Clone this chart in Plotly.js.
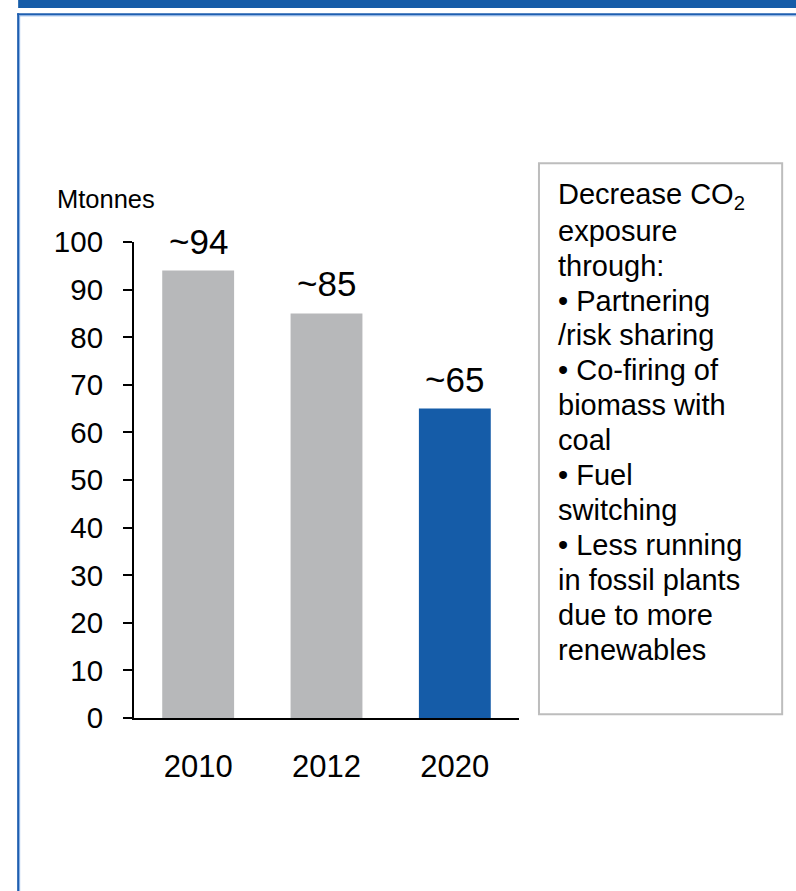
<!DOCTYPE html>
<html>
<head>
<meta charset="utf-8">
<script src="https://cdn.plot.ly/plotly-3.0.1.min.js"></script>
<style>
  html, body { margin: 0; padding: 0; background: #ffffff; }
  #chart { width: 796px; height: 891px; }
</style>
</head>
<body>
<div id="chart"></div>
<script>
// CO2 exposure by year (Mtonnes)
const years = ['2010', '2012', '2020'];
const emissions = [94, 85, 65];
const valueLabels = ['~94', '~85', '~65'];
const barColors = ['#b7b8ba', '#b7b8ba', '#155ca8'];
const unitLabel = 'Mtonnes';
const noteLines = [
  'Decrease CO<sub>2</sub>',
  'exposure',
  'through:',
  '\u2022 Partnering',
  '/risk sharing',
  '\u2022 Co-firing of',
  'biomass with',
  'coal',
  '\u2022 Fuel',
  'switching',
  '\u2022 Less running',
  'in fossil plants',
  'due to more',
  'renewables'
];

// page geometry (pixels)
const W = 796, H = 891;
const plotL = 134, plotR = 519.5, plotT = 241.7, plotB = 717.7;
const pw = plotR - plotL, ph = plotB - plotT;
const px = x => (x - plotL) / pw;
const py = y => (plotB - y) / ph;

const FONT = 'Liberation Sans, Arial, Helvetica, sans-serif';

const annotations = [];

// value labels above the bars (category index used as x position)
years.forEach((yr, i) => {
  annotations.push({
    x: i, y: emissions[i], xref: 'x', yref: 'y',
    text: valueLabels[i], showarrow: false,
    xanchor: 'center', yanchor: 'bottom', yshift: 8,
    font: { family: FONT, size: 35, color: '#000000' }
  });
});

// unit label
annotations.push({
  x: px(55), y: py(199), xref: 'paper', yref: 'paper',
  text: unitLabel, showarrow: false,
  xanchor: 'left', yanchor: 'middle',
  font: { family: FONT, size: 25.5, color: '#000000' }
});

// side note, one line per annotation
const noteFirstBaseline = 205.5, noteStep = 34.9;
noteLines.forEach((t, i) => {
  const base = noteFirstBaseline + i * noteStep;
  annotations.push({
    x: px(557), y: py(base - 10), xref: 'paper', yref: 'paper',
    text: t, showarrow: false,
    xanchor: 'left', yanchor: 'middle', align: 'left',
    font: { family: FONT, size: 29, color: '#000000' }
  });
});

const shapes = [
  // top banner
  { type: 'rect', xref: 'paper', yref: 'paper',
    x0: px(18), x1: px(W + 2), y0: py(0 - 2), y1: py(7.7),
    fillcolor: '#155ca8', line: { width: 0 } },
  // frame: top edge (dark + light)
  { type: 'line', xref: 'paper', yref: 'paper',
    x0: px(17), x1: px(W + 2), y0: py(14), y1: py(14),
    line: { color: '#1f5fb0', width: 2 } },
  { type: 'line', xref: 'paper', yref: 'paper',
    x0: px(19), x1: px(W + 2), y0: py(15.5), y1: py(15.5),
    line: { color: '#7ea9e2', width: 1 } },
  // frame: left edge
  { type: 'line', xref: 'paper', yref: 'paper',
    x0: px(18), x1: px(18), y0: py(13), y1: py(H + 2),
    line: { color: '#1f5fb0', width: 2 } },
  { type: 'line', xref: 'paper', yref: 'paper',
    x0: px(19.5), x1: px(19.5), y0: py(15), y1: py(H + 2),
    line: { color: '#7ea9e2', width: 1 } },
  // note box
  { type: 'rect', xref: 'paper', yref: 'paper',
    x0: px(539.5), x1: px(783), y0: py(163), y1: py(714),
    fillcolor: 'rgba(0,0,0,0)', line: { color: '#bdbdbd', width: 2 } }
];

const data = [{
  type: 'bar',
  x: years,
  y: emissions,
  marker: { color: barColors, line: { width: 0 } },
  hoverinfo: 'skip'
}];

const layout = {
  width: W, height: H,
  margin: { l: plotL, r: W - plotR, t: plotT, b: H - plotB, pad: 0 },
  paper_bgcolor: '#ffffff',
  plot_bgcolor: '#ffffff',
  showlegend: false,
  bargap: 0.44,
  font: { family: FONT, color: '#000000' },
  xaxis: {
    type: 'category',
    range: [-0.5, 2.5],
    showline: true, linecolor: '#000000', linewidth: 2,
    ticks: '', showgrid: false, zeroline: false,
    tickfont: { family: FONT, size: 31, color: '#000000' },
    ticklabelstandoff: 20,
    fixedrange: true
  },
  yaxis: {
    range: [0, 100],
    dtick: 10, tick0: 0,
    showline: true, linecolor: '#000000', linewidth: 2,
    ticks: 'outside', ticklen: 9, tickwidth: 2, tickcolor: '#000000',
    showgrid: false, zeroline: false,
    tickfont: { family: FONT, size: 29.5, color: '#000000' },
    ticklabelstandoff: 14,
    fixedrange: true
  },
  annotations: annotations,
  shapes: shapes
};

Plotly.newPlot('chart', data, layout, { displayModeBar: false, staticPlot: true });
</script>
</body>
</html>
